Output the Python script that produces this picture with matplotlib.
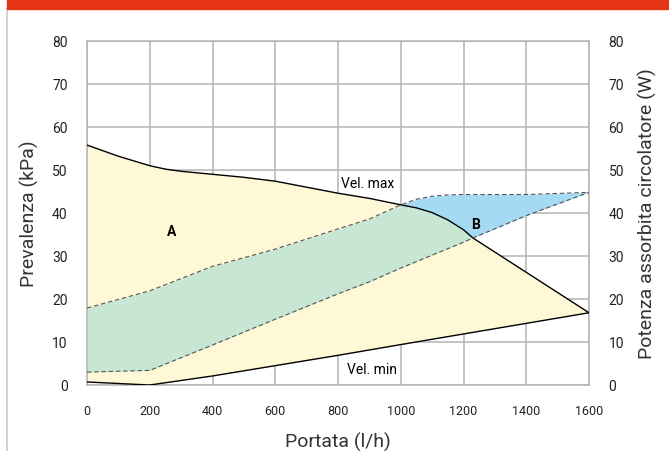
import numpy as np
import matplotlib.pyplot as plt
from matplotlib.patches import Rectangle
from matplotlib.lines import Line2D

# --- Curve di prevalenza (kPa) ---
vmax_x = [0, 100, 200, 250, 300, 400, 500, 600, 700, 800, 900, 1000, 1050, 1100, 1150, 1200, 1230, 1600]
vmax_y = [55.8, 53.2, 51.0, 50.2, 49.7, 49.0, 48.3, 47.4, 46.0, 44.6, 43.4, 41.9, 41.2, 40.1, 38.4, 36.1, 34.2, 16.8]

vmin_x = [0, 200, 400, 600, 800, 1000, 1600]
vmin_y = [0.7, 0.0, 2.1, 4.5, 6.9, 9.4, 16.8]

# --- Curve di potenza assorbita (W) ---
pmax_x = [0, 200, 400, 600, 800, 900, 1000, 1050, 1100, 1150, 1200, 1400, 1600]
pmax_y = [17.9, 21.9, 27.6, 31.6, 36.3, 38.6, 41.9, 43.2, 43.9, 44.2, 44.3, 44.3, 44.8]

pmin_x = [0, 200, 400, 600, 800, 900, 1000, 1200, 1230, 1400, 1600]
pmin_y = [3.0, 3.4, 9.3, 15.3, 21.2, 24.0, 27.2, 33.2, 34.2, 39.4, 44.8]

xticks = [0, 200, 400, 600, 800, 1000, 1200, 1400, 1600]
yticks = [0, 10, 20, 30, 40, 50, 60, 70, 80]

giallo = "#fff8d6"
verde = "#c7e6d3"
azzurro = "#a5daf3"
griglia = "#b4b4b4"

plt.rcParams['font.family'] = ['Roboto', 'DejaVu Sans']

fig = plt.figure(figsize=(6.69, 4.52), dpi=100)
ax = fig.add_axes([87 / 669, 1 - 386 / 452, 502 / 669, 344 / 452])

# griglia densa per i riempimenti
xs = np.linspace(0, 1600, 1601)
vmax = np.interp(xs, vmax_x, vmax_y)
vmin = np.interp(xs, vmin_x, vmin_y)
pmax = np.interp(xs, pmax_x, pmax_y)
pmin = np.interp(xs, pmin_x, pmin_y)

# zona A
ax.fill_between(xs, vmin, vmax, color=giallo, lw=0, zorder=1)
# banda potenza sotto vel. max
top_g = np.minimum(pmax, vmax)
ax.fill_between(xs, pmin, top_g, where=top_g > pmin, color=verde, lw=0, zorder=2)
# zona B
bot_b = np.maximum(pmin, vmax)
ax.fill_between(xs, bot_b, pmax, where=pmax > bot_b, color=azzurro, lw=0, zorder=2)

ax.plot(vmax_x, vmax_y, color="black", lw=1.0, zorder=4)
ax.plot(vmin_x, vmin_y, color="black", lw=1.0, zorder=4)
ax.plot(pmax_x, pmax_y, color="#555555", lw=0.8, ls=(0, (4, 2.5)), zorder=4)
ax.plot(pmin_x, pmin_y, color="#555555", lw=0.8, ls=(0, (4, 2.5)), zorder=4)

ax.text(896, 47.0, "Vel. max", fontsize=10, ha="center", va="center", zorder=5)
ax.text(908, 3.8, "Vel. min", fontsize=10, ha="center", va="center", zorder=5)
ax.text(271, 35.8, "A", fontsize=10, fontweight="bold", ha="center", va="center", zorder=5)
ax.text(1240, 37.4, "B", fontsize=10, fontweight="bold", ha="center", va="center", zorder=5)

ax.set_xlim(0, 1600)
ax.set_ylim(0, 80)
ax.set_xticks(xticks)
ax.set_yticks(yticks)
ax.grid(True, color=griglia, lw=1.1, zorder=0)
ax.set_axisbelow(True)
for s in ax.spines.values():
    s.set_color(griglia)
    s.set_linewidth(1.1)
ax.tick_params(length=0, labelsize=10, colors="#222222")
ax.tick_params(axis="x", pad=14, labelsize=9)
ax.tick_params(axis="y", pad=14)
ax.set_xlabel("Portata (l/h)", fontsize=14, color="#333333", labelpad=10)
ax.set_ylabel("Prevalenza (kPa)", fontsize=14, color="#333333", labelpad=9)

ax2 = ax.twinx()
ax2.set_ylim(0, 80)
ax2.set_yticks(yticks)
ax2.tick_params(length=0, labelsize=10, colors="#222222", pad=14)
for s in ax2.spines.values():
    s.set_visible(False)
ax2.set_ylabel("Potenza assorbita circolatore (W)", fontsize=14,
               color="#333333", labelpad=10)

# barra rossa in alto e bordo sinistro
fig.patches.append(Rectangle((7 / 669, 1 - 10 / 452), 1, 10 / 452, transform=fig.transFigure,
                             color="#e63416", zorder=10))
fig.lines.append(Line2D([7 / 669, 7 / 669], [0, 1 - 10 / 452], transform=fig.transFigure,
                        color="#c8c8c8", lw=1.2))

fig.savefig("out.png", dpi=100)
